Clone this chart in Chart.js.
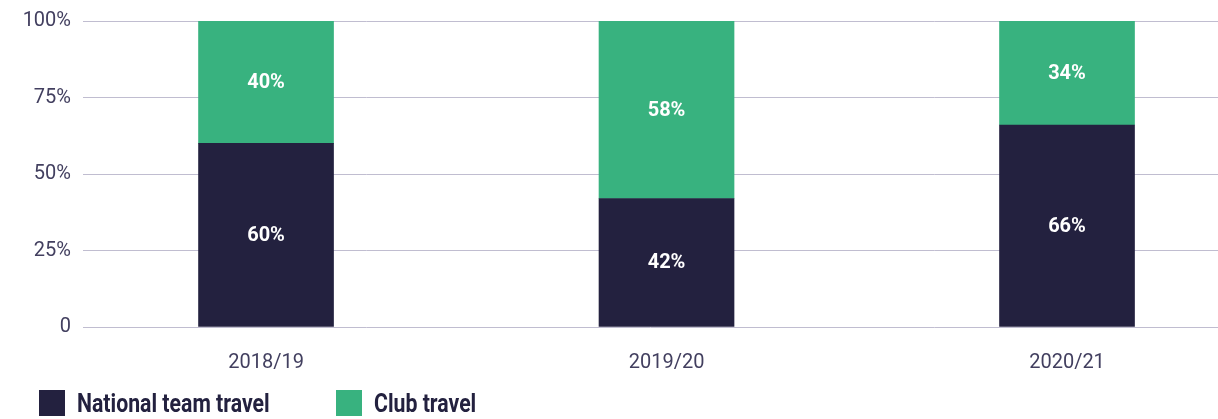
<!DOCTYPE html>
<html>
<head>
<meta charset="utf-8">
<script src="https://cdn.jsdelivr.net/npm/chart.js@4/dist/chart.umd.min.js"></script>
<style>
  html, body { margin: 0; padding: 0; background: #fff; }
  #wrap { position: relative; width: 1218px; height: 419px; overflow: hidden; }
  canvas { position: absolute; left: 0; top: 0; }
  .legend { position: absolute; top: 390px; display: flex; align-items: center; height: 26px;
            font-family: Roboto, sans-serif; font-weight: bold; font-size: 25px;
            color: #23213f; white-space: nowrap; }
  .legend i { display: inline-block; width: 26px; height: 26px; margin-right: 12px; flex: none; }
  .legend span { display: inline-block; transform: scaleX(0.85); transform-origin: left center; }
</style>
</head>
<body>
<div id="wrap">
  <canvas id="chart" width="1218" height="419"></canvas>
  <div class="legend" style="left:39px"><i style="background:#23213f"></i><span>National team travel</span></div>
  <div class="legend" style="left:336px"><i style="background:#38b27f"></i><span>Club travel</span></div>
</div>
<script>
// Seasons and travel share per season (%)
const seasons = ['2018/19', '2019/20', '2020/21'];
const nationalTeamTravel = [60, 42, 66];
const clubTravel = [40, 58, 34];
const yTicks = [0, 25, 50, 75, 100];

const NAVY = '#23213f';
const GREEN = '#38b27f';
const FONT = 'Roboto, sans-serif';

const toPoints = arr => arr.map((v, i) => ({ x: i, y: v }));

// White percentage labels centred in each stacked segment
const segmentLabels = {
  id: 'segmentLabels',
  afterDatasetsDraw(chart) {
    const { ctx } = chart;
    ctx.save();
    ctx.font = 'bold 20px ' + FONT;
    ctx.fillStyle = '#ffffff';
    ctx.textAlign = 'center';
    ctx.textBaseline = 'middle';
    chart.data.datasets.forEach((ds, di) => {
      chart.getDatasetMeta(di).data.forEach((bar, i) => {
        const c = bar.getCenterPoint();
        ctx.fillText(ds.data[i].y + '%', c.x, c.y + 1);
      });
    });
    ctx.restore();
  }
};

new Chart(document.getElementById('chart'), {
  type: 'bar',
  data: {
    datasets: [
      { label: 'National team travel', data: toPoints(nationalTeamTravel), backgroundColor: NAVY, barThickness: 135 },
      { label: 'Club travel', data: toPoints(clubTravel), backgroundColor: GREEN, barThickness: 135 }
    ]
  },
  options: {
    responsive: false,
    devicePixelRatio: 1,
    animation: false,
    layout: { padding: { top: 21, left: 0, right: 0, bottom: 42 } },
    plugins: { legend: { display: false }, tooltip: { enabled: false } },
    scales: {
      x: {
        type: 'linear',
        stacked: true,
        offset: false,
        min: -0.457,
        max: 2.377,
        afterBuildTicks: s => { s.ticks = seasons.map((_, i) => ({ value: i })); },
        afterFit: s => { s.height = 50; s.paddingLeft = 0; s.paddingRight = 0; },
        grid: { display: false },
        border: { display: false },
        ticks: {
          padding: 16,
          color: '#423f5f',
          font: { family: FONT, size: 20 },
          callback: v => seasons[v]
        }
      },
      y: {
        stacked: true,
        min: 0,
        max: 100,
        afterBuildTicks: s => { s.ticks = yTicks.map(v => ({ value: v })); },
        afterFit: s => { s.width = 83; s.paddingTop = 0; s.paddingBottom = 0; },
        grid: { color: '#c0bdd0', lineWidth: 1, drawTicks: false },
        border: { display: false },
        ticks: {
          padding: 12,
          color: '#423f5f',
          font: { family: FONT, size: 20 },
          callback: v => v === 0 ? '0' : v + '%'
        }
      }
    }
  },
  plugins: [segmentLabels]
});
</script>
</body>
</html>
